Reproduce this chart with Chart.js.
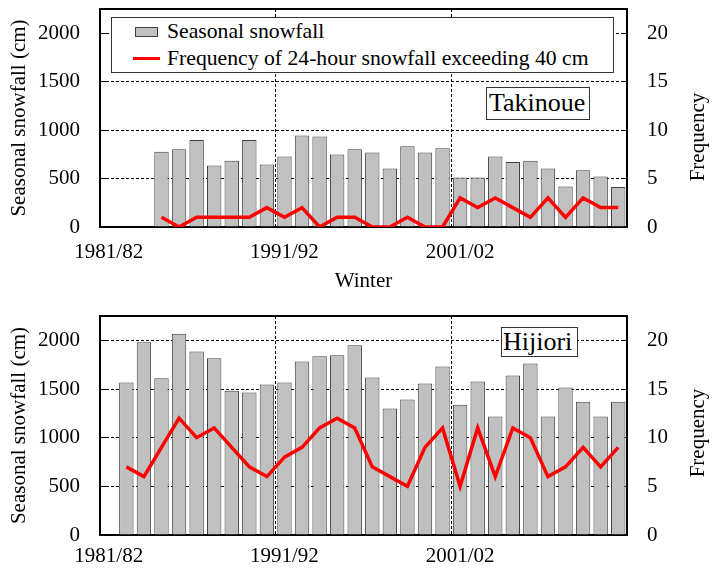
<!DOCTYPE html>
<html>
<head>
<meta charset="utf-8">
<script src="https://cdn.jsdelivr.net/npm/chart.js@4.4.1/dist/chart.umd.min.js"></script>
<style>
  html, body { margin: 0; padding: 0; background: #fff; }
  body { width: 725px; height: 571px; position: relative; overflow: hidden;
         font-family: "Liberation Serif", "Times New Roman", serif; color: #000; }
  canvas { position: absolute; left: 0; }
  .box { position: absolute; background: #fff; border: 1px solid #333; box-sizing: border-box; }
  .txt { position: absolute; white-space: nowrap; line-height: 1; }
  .ytitle { position: absolute; white-space: nowrap; font-size: 21px; line-height: 1;
            transform: translate(-50%, -50%) rotate(-90deg); }
</style>
</head>
<body>
<canvas id="top" width="725" height="300" style="top:0"></canvas>
<canvas id="bottom" width="725" height="271" style="top:300px"></canvas>

<!-- legend (top panel) -->
<div class="box" style="left:111px;top:17px;width:503px;height:56px;">
  <div style="position:absolute;left:23px;top:9px;width:23px;height:10px;background:#c0c0c0;border:1px solid #404040;box-sizing:border-box;"></div>
  <div class="txt" style="left:55px;top:3px;font-size:21.7px;">Seasonal snowfall</div>
  <div style="position:absolute;left:21px;top:39px;width:27px;height:3px;background:#ff0000;"></div>
  <div class="txt" style="left:55px;top:30px;font-size:21.7px;">Frequency of 24-hour snowfall exceeding 40 cm</div>
</div>

<div class="box" style="left:486px;top:87px;width:104px;height:33px;">
  <div class="txt" style="left:2px;top:2px;font-size:26px;">Takinoue</div>
</div>
<div class="box" style="left:501px;top:327px;width:77px;height:30px;">
  <div class="txt" style="left:1px;top:1px;font-size:26px;">Hijiori</div>
</div>

<div class="ytitle" style="left:697px;top:137px;">Frequency</div>
<div class="ytitle" style="left:697px;top:433px;">Frequency</div>

<script>
// winters on the x axis
const winters = ['1981/82', '1982/83', '1983/84', '1984/85', '1985/86', '1986/87', '1987/88',
  '1988/89', '1989/90', '1990/91', '1991/92', '1992/93', '1993/94', '1994/95', '1995/96',
  '1996/97', '1997/98', '1998/99', '1999/00', '2000/01', '2001/02', '2002/03', '2003/04',
  '2004/05', '2005/06', '2006/07', '2007/08', '2008/09', '2009/10', '2010/11'];
const shownWinters = ['1981/82', '1991/92', '2001/02'];
const snowTicks = [500, 1000, 1500, 2000];   // labelled / dashed
const freqTicks = [0, 5, 10, 15, 20];

// Takinoue
const takinoueSnow = [null, null, null, 776, 803, 897, 634, 683, 897, 645, 728, 945, 934, 748,
  803, 769, 603, 834, 769, 814, 510, 510, 728, 672, 683, 603, 417, 586, 521, 414];
const takinoueFreq = [null, null, null, 1, 0, 1, 1, 1, 1, 2, 1, 2, 0, 1, 1, 0, 0, 1, 0, 0,
  3, 2, 3, 2, 1, 3, 1, 3, 2, 2];

// Hijiori
const hijioriSnow = [null, 1567, 1980, 1611, 2068, 1884, 1816, 1481, 1464, 1546, 1567, 1782,
  1836, 1846, 1949, 1618, 1300, 1392, 1556, 1730, 1338, 1577, 1218, 1638, 1761, 1218, 1515,
  1369, 1218, 1369];
const hijioriFreq = [null, 7, 6, 9, 12, 10, 11, 9, 7, 6, 8, 9, 11, 12, 11, 7, 6, 5, 9, 11, 5,
  11, 6, 11, 10, 6, 7, 9, 7, 9];

Chart.defaults.font.family = '"Liberation Serif", "Times New Roman", serif';
Chart.defaults.font.size = 21;
Chart.defaults.color = '#000';

const clear = 'rgba(0,0,0,0)';
const dash = [3, 2];

// fixed axis sizes, and no extra layout padding from the tick labels
function fixSize(prop, value) {
  return (s) => {
    s[prop] = value;
    s.paddingTop = s.paddingBottom = s.paddingLeft = s.paddingRight = 0;
  };
}

function panel(canvasId, snow, freq, cfg) {
  return new Chart(document.getElementById(canvasId), {
    data: {
      labels: winters,
      datasets: [{
        type: 'line',
        data: freq,
        yAxisID: 'y2',
        borderColor: '#ff0000',
        borderWidth: 3.5,
        pointRadius: 0,
        tension: 0,
        order: 0
      }, {
        type: 'bar',
        data: snow,
        yAxisID: 'y',
        backgroundColor: '#c0c0c0',
        borderColor: '#404040',
        borderWidth: 1,
        barPercentage: 0.82,
        categoryPercentage: 1,
        order: 1
      }]
    },
    options: {
      responsive: false,
      animation: false,
      events: [],
      layout: { padding: { top: cfg.top, left: 0, right: 0, bottom: 0 } },
      plugins: { legend: { display: false }, tooltip: { enabled: false } },
      scales: {
        x: {
          type: 'category',
          offset: true,
          grid: {
            offset: true,
            drawTicks: false,
            lineWidth: 1,
            color: (c) => (c.index === 10 || c.index === 20) ? '#000' : clear
          },
          border: { color: '#000', width: 2, dash },
          ticks: {
            autoSkip: false,
            maxRotation: 0,
            padding: cfg.xPad,
            callback: (v, i) => shownWinters.includes(winters[i]) ? winters[i] : ''
          },
          title: {
            display: cfg.xTitle,
            text: 'Winter',
            padding: { top: 0, bottom: 6 }
          },
          afterFit: fixSize('height', cfg.xHeight)
        },
        xTop: {
          type: 'category',
          position: 'top',
          offset: true,
          grid: { display: false },
          ticks: { display: false },
          border: { color: '#000', width: 2 },
          afterFit: fixSize('height', 0)
        },
        y: {
          position: 'left',
          min: 0,
          max: 2250,
          ticks: {
            stepSize: 250,
            padding: 26,
            callback: (v) => (v === 0 || snowTicks.includes(v)) ? v : ''
          },
          grid: {
            drawTicks: true,
            tickLength: -6,
            tickColor: '#000',
            tickWidth: 1,
            lineWidth: 1,
            color: (c) => (c.tick && snowTicks.includes(c.tick.value)) ? '#000' : clear
          },
          border: { color: '#000', width: 2, dash },
          title: {
            display: true,
            text: 'Seasonal snowfall (cm)',
            padding: { top: 7, bottom: 0 }
          },
          afterFit: fixSize('width', 100)
        },
        y2: {
          position: 'right',
          min: 0,
          max: 22.5,
          ticks: {
            stepSize: 2.5,
            padding: 26,
            callback: (v) => freqTicks.includes(v) ? v : ''
          },
          grid: {
            drawOnChartArea: false,
            drawTicks: true,
            tickLength: -6,
            tickColor: '#000',
            tickWidth: 1
          },
          border: { color: '#000', width: 2 },
          afterFit: fixSize('width', 98)
        }
      }
    }
  });
}

panel('top', takinoueSnow, takinoueFreq, { top: 9, xHeight: 73, xPad: 13, xTitle: true });
panel('bottom', hijioriSnow, hijioriFreq, { top: 16, xHeight: 36, xPad: 9, xTitle: false });
</script>
</body>
</html>
